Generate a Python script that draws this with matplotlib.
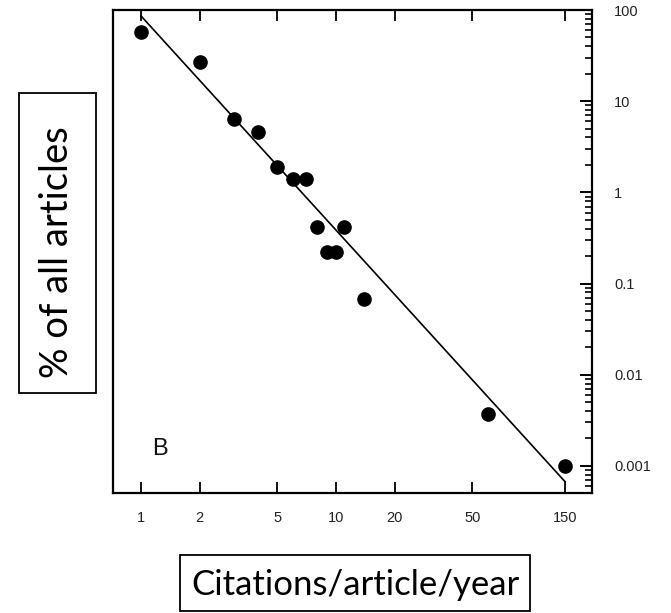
import matplotlib
matplotlib.use("Agg")
import matplotlib.pyplot as plt
import matplotlib.ticker as mticker
from matplotlib.patches import Rectangle

# citation rate vs share of articles (log-log)
citations = [1, 2, 3, 4, 5, 6, 7, 8, 9, 10, 11, 14, 60, 150]
pct_articles = [57, 27, 6.3, 4.6, 1.9, 1.4, 1.4, 0.42, 0.22, 0.22, 0.42, 0.067, 0.0037, 0.001]

# fitted power law, end points
fit_x = [1, 150]
fit_y = [86, 0.00067]

x_ticks = [1, 2, 5, 10, 20, 50, 150]
x_tick_labels = ["1", "2", "5", "10", "20", "50", "150"]
y_ticks = [100, 10, 1, 0.1, 0.01, 0.001]
y_tick_labels = ["100", "10", "1", "0.1", "0.01", "0.001"]

W, H = 671, 613
fig = plt.figure(figsize=(W / 100, H / 100), dpi=100)
ax = fig.add_axes([113 / W, 1 - 493 / H, (592 - 113) / W, (493 - 10) / H])

ax.set_xscale("log")
ax.set_yscale("log")

ax.plot(fit_x, fit_y, color="black", lw=1.2, zorder=2)
ax.plot(citations, pct_articles, "o", color="black", ms=9.5, zorder=3)

for s in ax.spines.values():
    s.set_linewidth(1.6)

ax.set_xticks(x_ticks)
ax.set_xticklabels(x_tick_labels)
ax.xaxis.set_minor_locator(mticker.NullLocator())
ax.tick_params(axis="x", which="major", direction="in", top=True, bottom=True,
               length=8, width=1.3, pad=13, labelsize=10.5, labelcolor="#222222")

# minor ticks 2..9 in every decade on the right spine
minor_y = [m * 10.0 ** e for e in range(-4, 2) for m in range(2, 10)]
ax.yaxis.set_major_locator(mticker.FixedLocator(y_ticks))
ax.yaxis.set_major_formatter(mticker.FixedFormatter(y_tick_labels))
ax.yaxis.set_minor_locator(mticker.FixedLocator(minor_y))
ax.yaxis.set_minor_formatter(mticker.NullFormatter())
ax.tick_params(axis="y", which="both", direction="in", left=False, right=True,
               labelleft=False, labelright=True, color="black")
ax.tick_params(axis="y", which="major", length=9, width=1.4, pad=16,
               labelsize=10.5, labelcolor="#222222")
ax.tick_params(axis="y", which="minor", length=5, width=1.2)
for lbl in ax.get_xticklabels() + ax.get_yticklabels():
    lbl.set_fontfamily("Liberation Sans")

ax.set_xlim(0.718, 206)
ax.set_ylim(5.05e-4, 100)

fig.text(160 / W, 1 - 449 / H, "B", fontsize=17, family="Liberation Sans",
         ha="center", va="center", color="#111111")

# boxed axis captions
label_font = ["Lato", "DejaVu Sans"]
fig.add_artist(Rectangle((19 / W, 1 - 393 / H), 77 / W, 300 / H, transform=fig.transFigure,
                         fill=False, edgecolor="black", lw=1.3))
fig.text(57 / W, 1 - 252 / H, "% of all articles", rotation=90, fontsize=27.5,
         family=label_font, ha="center", va="center")

fig.add_artist(Rectangle((180 / W, 1 - 611 / H), 350 / W, 56 / H, transform=fig.transFigure,
                         fill=False, edgecolor="black", lw=1.3))
fig.text(355 / W, 1 - 585 / H, "Citations/article/year", fontsize=25,
         family=label_font, ha="center", va="center")

fig.savefig("out.png", dpi=100)
